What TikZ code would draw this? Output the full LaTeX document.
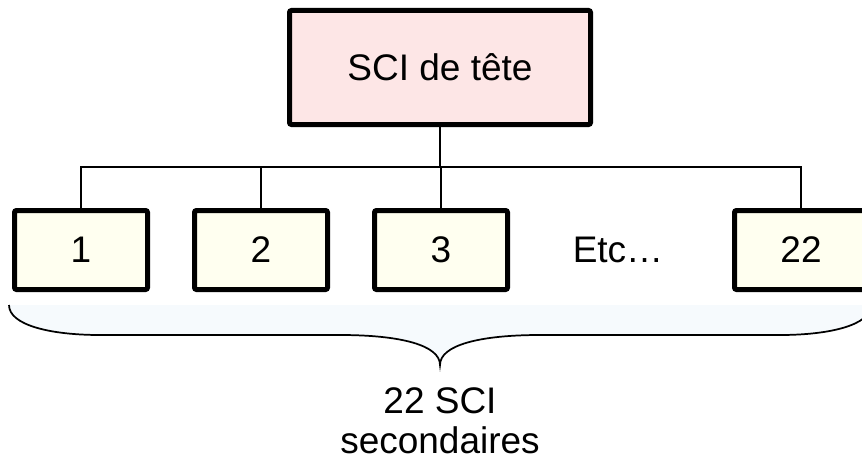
\documentclass[tikz,border=0pt]{standalone}
\usepackage{fontspec}
\setmainfont{Liberation Sans}
\definecolor{headfill}{RGB}{253,230,230}
\definecolor{subfill}{RGB}{255,255,240}
\definecolor{bracefill}{RGB}{246,250,253}
\begin{document}
\begin{tikzpicture}[x=0.75pt,y=-0.75pt,
  txt/.style={font=\fontsize{27.75pt}{31pt}\selectfont},
  headbox/.style={txt,draw=black,line width=3.75pt,fill=headfill,rounded corners=1.5pt,
    minimum width=225.75pt,minimum height=85.5pt,inner sep=0pt},
  subbox/.style={txt,draw=black,line width=3.75pt,fill=subfill,rounded corners=1.5pt,
    minimum width=99.75pt,minimum height=59.25pt,inner sep=0pt},
  wire/.style={draw=black,line width=1.1pt},
  bracestyle/.style={draw=black,line width=1.3pt,fill=bracefill}]
\useasboundingbox (0,0) rectangle (862,460);
% brace
\path[bracestyle] (9,305) .. controls (9,325) and (50,335) .. (100,335)
  -- (340,335) .. controls (400,335) and (440,345) .. (440,365)
  .. controls (440,345) and (480,335) .. (540,335)
  -- (780,335) .. controls (830,335) and (871,325) .. (871,305);
% nodes
\node[headbox] (head) at (440,67.5) {SCI de tête};
\node[subbox] (n1) at (81,250) {1};
\node[subbox] (n2) at (261,250) {2};
\node[subbox] (n3) at (441,250) {3};
\node[txt,inner sep=0pt] (etc) at (618,250) {Etc…};
\node[subbox] (n22) at (801,250) {22};
\coordinate (bus) at (0,167);
% connectors
\draw[wire] (head.south) -- (head.south |- bus);
\draw[wire] (n1.north) |- (n22.north |- bus) -- (n22.north);
\draw[wire] (n2.north) -- (n2.north |- bus);
\draw[wire] (n3.north) -- (n3.north |- bus);
% label
\node[txt,anchor=base,inner sep=0pt] (lbl1) at (440,413) {22 SCI};
\node[txt,anchor=base,inner sep=0pt] (lbl2) at (440,453) {secondaires};
\end{tikzpicture}
\end{document}
